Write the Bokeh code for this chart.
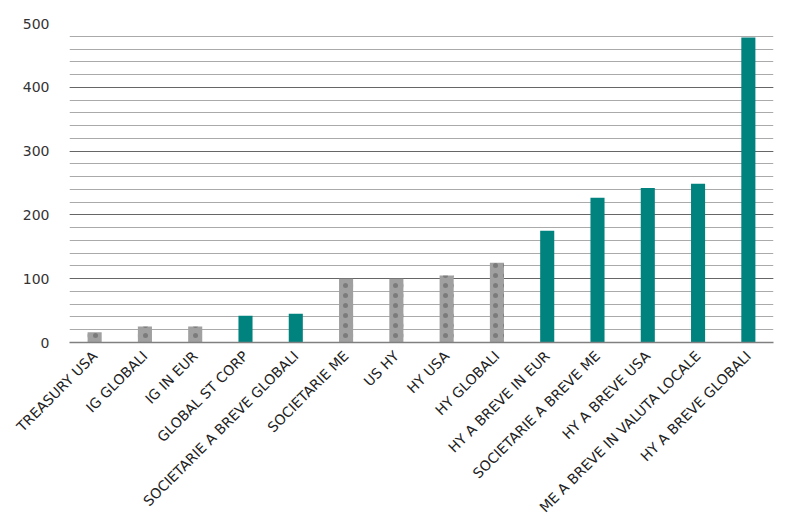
import math
from bokeh.plotting import figure
from bokeh.models import ColumnDataSource, Range1d, SingleIntervalTicker
from bokeh.embed import file_html
from bokeh.resources import INLINE

categories = ["TREASURY USA", "IG GLOBALI", "IG IN EUR", "GLOBAL ST CORP",
              "SOCIETARIE A BREVE GLOBALI", "SOCIETARIE ME", "US HY", "HY USA",
              "HY GLOBALI", "HY A BREVE IN EUR", "SOCIETARIE A BREVE ME",
              "HY A BREVE USA", "ME A BREVE IN VALUTA LOCALE", "HY A BREVE GLOBALI"]
values = [16, 25, 25, 42, 45, 100, 100, 105, 125, 175, 227, 242, 249, 478]
highlight = [False, False, False, True, True, False, False, False, False,
             True, True, True, True, True]

GRAY = "#a0a0a0"
TEAL = "#00827f"

colors = [TEAL if h else GRAY for h in highlight]
hatch = ["blank" if h else "dot" for h in highlight]

src = ColumnDataSource(dict(x=categories, top=values, color=colors, hatch=hatch))

p = figure(x_range=categories, y_range=Range1d(0, 500), width=789, height=532,
           output_backend="svg", toolbar_location=None,
           min_border_left=69, min_border_right=16, min_border_top=23,
           min_border_bottom=190)
p.outline_line_color = None
p.x_range.range_padding = 0

p.vbar(x="x", top="top", width=0.28, source=src, fill_color="color",
       line_color=None, hatch_pattern="hatch", hatch_color="#555555",
       hatch_scale=10, hatch_alpha=0.5, hatch_weight=0.6)

p.yaxis.ticker = SingleIntervalTicker(interval=100, num_minor_ticks=5)
p.yaxis.axis_line_color = None
p.yaxis.major_tick_line_color = None
p.yaxis.minor_tick_line_color = None
p.yaxis.major_label_text_font = "DejaVu Sans"
p.yaxis.major_label_text_font_size = "14px"
p.yaxis.major_label_text_color = "#333333"
p.yaxis.major_label_standoff = 14

p.xaxis.axis_line_color = "#808080"
p.xaxis.axis_line_width = 1.5
p.xaxis.major_tick_line_color = None
p.xaxis.minor_tick_line_color = None
p.xaxis.major_label_orientation = math.pi / 4
p.xaxis.major_label_text_font = "DejaVu Sans"
p.xaxis.major_label_text_font_size = "14px"
p.xaxis.major_label_text_color = "#222222"
p.xaxis.major_label_standoff = 5

p.xgrid.grid_line_color = None
p.ygrid.grid_line_color = "#666666"
p.ygrid.grid_line_width = 1
p.ygrid.minor_grid_line_color = "#aaaaaa"
p.ygrid.minor_grid_line_width = 1

open("out.html", "w").write(file_html(p, INLINE))
